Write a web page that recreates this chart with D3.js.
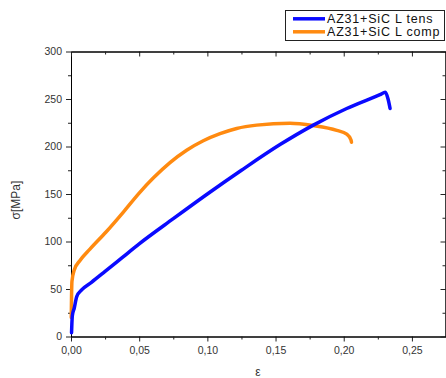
<!DOCTYPE html>
<html>
<head>
<meta charset="utf-8">
<script src="https://cdn.jsdelivr.net/npm/d3@7"></script>
<style>
  html, body { margin: 0; padding: 0; background: #fff; }
  svg { display: block; }
</style>
</head>
<body>
<svg id="chart" width="446" height="378"></svg>
<script>
// Stress–strain curves, AZ31+SiC L
const seriesNames = ["AZ31+SiC L tens", "AZ31+SiC L comp"];
const seriesColors = ["#0a0aff", "#ff8a10"];

const tensStrain = [0.0004, 0.0006, 0.001, 0.0024, 0.0042, 0.0078, 0.015, 0.025, 0.0375, 0.05, 0.075, 0.10, 0.125, 0.1533, 0.1777, 0.2022, 0.2266, 0.2305, 0.2325, 0.234];
const tensStress = [4, 12, 22, 30, 42, 49, 57, 68.5, 83, 97.5, 124, 150, 175, 202, 222.5, 240, 254.5, 257, 250, 240];

const compStrain = [0.0002, 0.0004, 0.0007, 0.0024, 0.0066, 0.0139, 0.0257, 0.0384, 0.05, 0.0605, 0.0726, 0.0848, 0.097, 0.1093, 0.1215, 0.1362, 0.1606, 0.1777, 0.1949, 0.2022, 0.2053, 0.2057];
const compStress = [20, 42, 58, 70, 80, 92, 110, 131, 151, 167, 183, 196, 206, 213.5, 219, 222.5, 224.5, 222, 217, 213, 207, 204.5];

const xTicks = [0, 0.05, 0.10, 0.15, 0.20, 0.25];
const xMinorTicks = [0.025, 0.075, 0.125, 0.175, 0.225, 0.275];
const yTicks = [0, 50, 100, 150, 200, 250, 300];
const yMinorTicks = [25, 75, 125, 175, 225, 275];
const xTitle = "ε";
const yTitle = "σ[MPa]";

const svg = d3.select("#chart");
const plotLeft = 71, plotRight = 446, plotTop = 51.5, plotBottom = 336.5;

const x = d3.scaleLinear().domain([0, 0.275]).range([plotLeft, plotRight]);
const y = d3.scaleLinear().domain([0, 300]).range([plotBottom, plotTop]);

const fmtX = v => d3.format(".2f")(v).replace(".", ",");
const tickFont = "Liberation Sans, Arial, sans-serif";

// bottom axis (ticks outward, labelled)
svg.append("g").attr("transform", `translate(0,${plotBottom})`)
  .call(d3.axisBottom(x).tickValues(xTicks).tickFormat(fmtX).tickSize(5).tickSizeOuter(0).tickPadding(5));
svg.append("g").attr("transform", `translate(0,${plotBottom})`)
  .call(d3.axisBottom(x).tickValues(xMinorTicks).tickFormat("").tickSize(3).tickSizeOuter(0));

// left axis (ticks outward, labelled)
svg.append("g").attr("transform", `translate(${plotLeft},0)`)
  .call(d3.axisLeft(y).tickValues(yTicks).tickSize(5).tickSizeOuter(0).tickPadding(4));
svg.append("g").attr("transform", `translate(${plotLeft},0)`)
  .call(d3.axisLeft(y).tickValues(yMinorTicks).tickFormat("").tickSize(3).tickSizeOuter(0));

// top axis (ticks inward, no labels)
svg.append("g").attr("transform", `translate(0,${plotTop})`)
  .call(d3.axisBottom(x).tickValues(xTicks).tickFormat("").tickSize(5).tickSizeOuter(0));
svg.append("g").attr("transform", `translate(0,${plotTop})`)
  .call(d3.axisBottom(x).tickValues(xMinorTicks).tickFormat("").tickSize(3).tickSizeOuter(0));

// right axis (ticks inward, no labels)
svg.append("g").attr("transform", `translate(${plotRight - 0.5},0)`)
  .call(d3.axisLeft(y).tickValues(yTicks).tickFormat("").tickSize(5).tickSizeOuter(0));
svg.append("g").attr("transform", `translate(${plotRight - 0.5},0)`)
  .call(d3.axisLeft(y).tickValues(yMinorTicks).tickFormat("").tickSize(3).tickSizeOuter(0));

svg.selectAll(".domain").attr("stroke", "#000").attr("stroke-width", 1);
svg.selectAll(".tick line").attr("stroke", "#222");
svg.selectAll(".tick text")
  .attr("font-family", tickFont).attr("font-size", 10.5).attr("fill", "#333");

// axis titles
svg.append("text").attr("x", 258).attr("y", 376)
  .attr("text-anchor", "middle").attr("font-family", tickFont).attr("font-size", 12).attr("fill", "#333")
  .text(xTitle);
svg.append("text").attr("transform", "translate(20,200) rotate(-90)")
  .attr("text-anchor", "middle").attr("font-family", tickFont).attr("font-size", 12).attr("fill", "#333")
  .text(yTitle);

// curves
const line = d3.line().curve(d3.curveMonotoneX).x(d => x(d[0])).y(d => y(d[1]));
const tensData = tensStrain.map((e, i) => [e, tensStress[i]]);
const compData = compStrain.map((e, i) => [e, compStress[i]]);

const plot = svg.append("g");
plot.append("path").datum(compData).attr("d", line)
  .attr("fill", "none").attr("stroke", seriesColors[1]).attr("stroke-width", 3.5)
  .attr("stroke-linejoin", "round").attr("stroke-linecap", "round");
plot.append("path").datum(tensData).attr("d", line)
  .attr("fill", "none").attr("stroke", seriesColors[0]).attr("stroke-width", 3.5)
  .attr("stroke-linejoin", "round").attr("stroke-linecap", "round");

// legend
const lg = svg.append("g");
lg.append("rect").attr("x", 285.5).attr("y", 10.5).attr("width", 159).attr("height", 30)
  .attr("fill", "#fff").attr("stroke", "#222").attr("stroke-width", 1);
seriesNames.forEach((name, i) => {
  const yy = 18.8 + i * 13;
  lg.append("line").attr("x1", 293).attr("x2", 325).attr("y1", yy).attr("y2", yy)
    .attr("stroke", seriesColors[i]).attr("stroke-width", 3.5);
  lg.append("text").attr("x", 327).attr("y", yy).attr("dy", "0.36em")
    .attr("font-family", tickFont).attr("font-size", 12.5).attr("letter-spacing", 0.8)
    .attr("fill", "#111")
    .text(name);
});
</script>
</body>
</html>
